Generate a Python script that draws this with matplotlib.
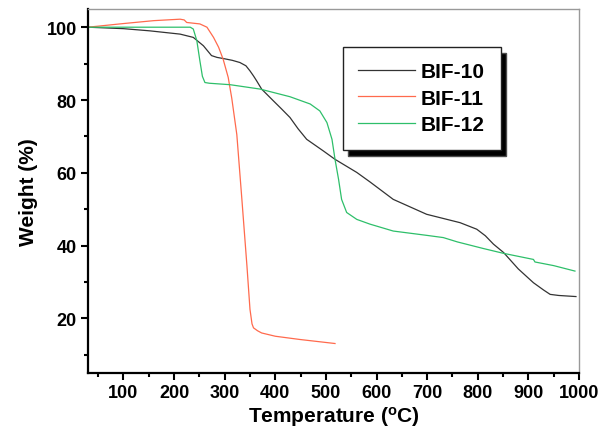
import matplotlib
matplotlib.use('Agg')
import matplotlib.pyplot as plt
from matplotlib.ticker import MultipleLocator

plt.rcParams['font.family'] = 'Liberation Sans'
plt.rcParams['mathtext.default'] = 'regular'

# BIF-10
t10 = [30, 100, 152, 212, 238, 258, 274, 285, 297, 315, 330, 342, 350, 357, 363, 373,
       396, 412, 429, 445, 462, 495, 518, 561, 587, 633, 699, 765, 798, 815, 831, 851,
       880, 910, 930, 943, 960, 994]
w10 = [100, 99.6, 99.0, 98.1, 97.2, 94.9, 92.2, 91.7, 91.4, 90.9, 90.3, 89.4, 88.0,
       86.6, 85.3, 83.0, 79.8, 77.6, 75.2, 72.1, 69.2, 66.0, 63.7, 60.1, 57.5, 52.7,
       48.6, 46.3, 44.5, 42.7, 40.4, 38.1, 33.6, 29.8, 27.8, 26.6, 26.3, 26.0]
# BIF-11
t11 = [30, 100, 160, 212, 220, 225, 251, 265, 278, 288, 297, 307, 314, 324, 334,
       344, 350, 354, 357, 365, 373, 400, 449, 518]
w11 = [100, 101.0, 101.8, 102.2, 102.0, 101.3, 100.9, 100.0, 97.2, 94.5, 91.2, 86.2,
       80.5, 70.5, 52.7, 34.4, 22.5, 18.5, 17.4, 16.6, 16.0, 15.1, 14.2, 13.1]
# BIF-12
t12 = [30, 150, 232, 238, 245, 251, 256, 261, 270, 311, 370, 429, 469, 488, 502, 512,
       518, 525, 531, 541, 561, 587, 633, 700, 732, 760, 811, 850, 910, 913, 950, 992]
w12 = [100, 100, 100, 99.5, 96.3, 90.8, 86.5, 84.8, 84.6, 84.2, 83.0, 80.9, 78.9, 77.0,
       73.8, 69.2, 63.7, 58.2, 52.7, 49.1, 47.2, 45.9, 44.0, 42.8, 42.2, 41.0, 39.2,
       37.9, 36.2, 35.5, 34.5, 33.0]

fig = plt.figure(figsize=(5.99, 4.31), dpi=100)
ax = fig.add_axes([88/599, 1-374/431, 491/599, 364/431])

ax.plot(t10, w10, color='#333333', linewidth=0.9, label='BIF-10')
ax.plot(t11, w11, color='#ff6a4d', linewidth=0.9, label='BIF-11')
ax.plot(t12, w12, color='#2ebf6a', linewidth=0.9, label='BIF-12')

ax.set_xlim(30, 1000)
ax.set_ylim(5, 105)
ax.xaxis.set_minor_locator(MultipleLocator(50))
ax.yaxis.set_minor_locator(MultipleLocator(10))
ax.set_xticks([100, 200, 300, 400, 500, 600, 700, 800, 900, 1000])
ax.set_yticks([20, 40, 60, 80, 100])

for s in ['left', 'bottom']:
    ax.spines[s].set_linewidth(1.6)
    ax.spines[s].set_color('black')
for s in ['top', 'right']:
    ax.spines[s].set_linewidth(1.0)
    ax.spines[s].set_color('#999999')

ax.tick_params(which='major', direction='out', length=5, width=1.5, labelsize=13, pad=3)
ax.tick_params(which='minor', direction='out', length=3, width=1.5)
ax.tick_params(top=False, right=False, which='both')
for lab in ax.get_xticklabels() + ax.get_yticklabels():
    lab.set_fontweight('bold')

ax.set_xlabel('Temperature ($^{o}$C)', fontsize=15, fontweight='bold', labelpad=2)
ax.set_ylabel('Weight (%)', fontsize=15, fontweight='bold', labelpad=6)

leg = ax.legend(loc='upper left', bbox_to_anchor=(0.519, 0.896), borderaxespad=0,
                fancybox=False, edgecolor='#222222', framealpha=1,
                shadow={'facecolor': 'black', 'alpha': 1, 'ox': 4, 'oy': -4.5},
                prop={'weight': 'bold', 'size': 15}, handlelength=2.7,
                handletextpad=0.3, labelspacing=0.35, borderpad=0.75)
leg.get_frame().set_linewidth(1.0)

fig.savefig('out.png', dpi=100)
